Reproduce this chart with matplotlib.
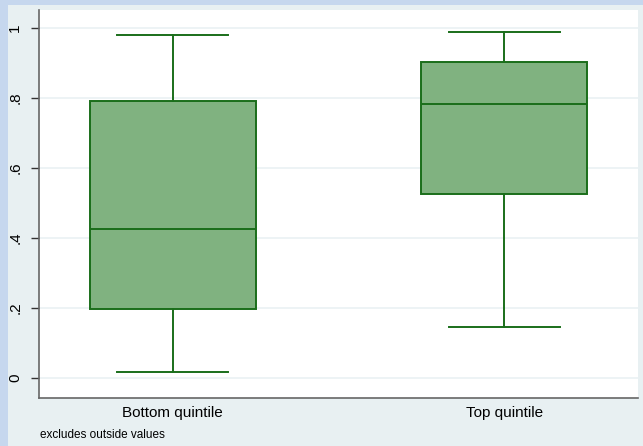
import matplotlib
matplotlib.use("Agg")
import matplotlib.pyplot as plt
from matplotlib.patches import Rectangle

# data
groups = ["Bottom quintile", "Top quintile"]
whislo = [0.017, 0.146]
q1 = [0.197, 0.526]
med = [0.426, 0.783]
q3 = [0.791, 0.903]
whishi = [0.980, 0.989]
yticks = [0, 0.2, 0.4, 0.6, 0.8, 1.0]
ytick_labels = ["0", ".2", ".4", ".6", ".8", "1"]
note = "excludes outside values"

W, H = 643, 446
fig = plt.figure(figsize=(W / 100, H / 100), dpi=100)
fig.patch.set_facecolor("#c6d7ee")
# inner graph region (drawn beneath the axes)
fig.patches.append(Rectangle((8 / W, 0), 1 - 8 / W, 1 - 5 / H,
                             transform=fig.transFigure,
                             facecolor="#e8f0f2", edgecolor="none", zorder=-5))

ax = fig.add_axes([39 / W, 1 - 398 / H, (638 - 39) / W, (398 - 10) / H])
ax.set_facecolor("white")

stats = [dict(label=g, whislo=a, q1=b, med=c, q3=d, whishi=e, fliers=[])
         for g, a, b, c, d, e in zip(groups, whislo, q1, med, q3, whishi)]
green = "#1a6e1a"
ax.bxp(stats, positions=[1, 2], widths=0.5, patch_artist=True,
       showfliers=False,
       boxprops=dict(facecolor="#80b280", edgecolor=green, linewidth=1.4),
       medianprops=dict(color=green, linewidth=1.4),
       whiskerprops=dict(color=green, linewidth=1.4),
       capprops=dict(color=green, linewidth=1.4),
       capwidths=0.335)

ax.set_xlim(0.597, 2.403)
ax.set_ylim(-0.057, 1.051)
ax.set_yticks(yticks)
ax.set_yticklabels(ytick_labels, rotation=90, va="center",
                   fontsize=11, family="Liberation Sans")
ax.grid(axis="y", color="#edf3f5", linewidth=1.4)
ax.set_axisbelow(True)
ax.tick_params(axis="y", length=6, width=1, color="#333333", pad=6)
ax.tick_params(axis="x", length=0, pad=6)
ax.set_xticks([1, 2])
ax.set_xticklabels(groups, fontsize=11, family="Liberation Sans")
for s in ["top", "right"]:
    ax.spines[s].set_visible(False)
ax.spines["left"].set_color("#666666")
ax.spines["bottom"].set_color("#666666")
ax.spines["left"].set_linewidth(1.2)
ax.spines["bottom"].set_linewidth(1.2)

fig.text(40 / W, 1 - 435 / H, note, fontsize=8.5, family="Liberation Sans",
         va="center")

fig.savefig("out.png", dpi=100, facecolor=fig.get_facecolor())
